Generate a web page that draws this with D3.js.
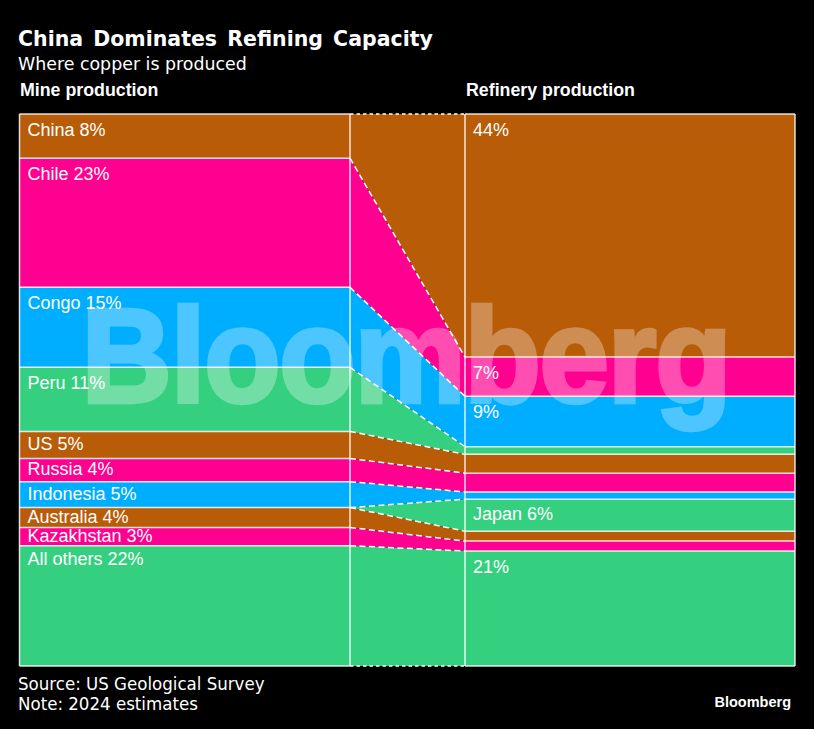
<!DOCTYPE html>
<html>
<head>
<meta charset="utf-8">
<script src="https://cdn.jsdelivr.net/npm/d3@7"></script>
<style>
  html, body { margin: 0; background: #000; }
  text { fill: #fff; }
  .lbl { font-family: "Liberation Sans", sans-serif; font-size: 18px; }
  .head { font-family: "Liberation Sans", sans-serif; font-size: 17.8px; font-weight: bold; }
  .title { font-family: "DejaVu Sans", sans-serif; font-size: 20.5px; font-weight: bold; word-spacing: 3px; }
  .sub { font-family: "DejaVu Sans", sans-serif; font-size: 17.4px; }
  .foot { font-family: "DejaVu Sans Condensed", "DejaVu Sans", sans-serif; font-stretch: condensed; font-size: 18.5px; }
</style>
</head>
<body>
<svg id="chart" width="814" height="729"></svg>
<script>
// share of world output (Japan has no mine band)
const countries = ["China", "Chile", "Congo", "Peru", "US", "Russia", "Indonesia", "Japan", "Australia", "Kazakhstan", "All others"];
const mine = [8.0, 23.4, 14.5, 11.6, 4.9, 4.2, 4.7, 0, 3.6, 3.3, 21.8];
const refinery = [44.0, 7.1, 9.1, 1.4, 3.4, 3.4, 1.3, 5.8, 1.8, 1.8, 20.8];
const mineLabels = ["China 8%", "Chile 23%", "Congo 15%", "Peru 11%", "US 5%", "Russia 4%", "Indonesia 5%", "", "Australia 4%", "Kazakhstan 3%", "All others 22%"];
const refineryLabels = ["44%", "7%", "9%", "", "", "", "", "Japan 6%", "", "", "21%"];
const palette = ["#b85c08", "#ff0090", "#00aeff", "#35d07f"];
const colorIdx = [0, 1, 2, 3, 0, 1, 2, 3, 0, 1, 3];

const svg = d3.select("#chart");
svg.append("rect").attr("width", 814).attr("height", 729).attr("fill", "#000");

const y = d3.scaleLinear().domain([0, 100]).range([114, 666]);
// four stops across: left edge, end of mine block, start of refinery block, right edge
const x = d3.scaleOrdinal().domain(["a", "b", "c", "d"]).range([19.5, 350, 465, 795]);

// cumulative tops and bottoms
function cumul(vals) {
  const total = d3.sum(vals);
  let acc = 0;
  return vals.map(v => {
    const r = [acc / total * 100, (acc + v) / total * 100];
    acc += v;
    return r;
  });
}
const mineC = cumul(mine);
const refC = cumul(refinery);
const rows = countries.map((c, i) => ({
  name: c,
  color: palette[colorIdx[i]],
  pts: [
    { k: "a", y0: mineC[i][0], y1: mineC[i][1] },
    { k: "b", y0: mineC[i][0], y1: mineC[i][1] },
    { k: "c", y0: refC[i][0], y1: refC[i][1] },
    { k: "d", y0: refC[i][0], y1: refC[i][1] }
  ]
}));

const area = d3.area().x(d => x(d.k)).y0(d => y(d.y0)).y1(d => y(d.y1));
svg.selectAll("path.band")
  .data(rows)
  .join("path")
  .attr("class", "band")
  .attr("fill", d => d.color)
  .attr("d", d => area(d.pts));

// solid rules inside the two blocks
const solid = (k0, k1, vals) => vals.forEach(v => {
  svg.append("line")
    .attr("x1", x(k0)).attr("x2", x(k1))
    .attr("y1", y(v)).attr("y2", y(v))
    .attr("stroke", "#fff").attr("stroke-opacity", 0.85).attr("stroke-width", 1.5);
});
solid("a", "b", [0, ...mineC.filter((d, i) => mine[i] > 0).map(d => d[1])]);
solid("c", "d", [0, ...refC.map(d => d[1])]);

// dashed links between the blocks
const link = d3.line().x(d => x(d.k)).y(d => y(d.v));
const links = [[0, 0]].concat(mineC.map((d, i) => [d[1], refC[i][1]]));
svg.selectAll("path.link")
  .data(links)
  .join("path")
  .attr("class", "link")
  .attr("fill", "none")
  .attr("stroke", "#fff")
  .attr("stroke-width", 1.5)
  .attr("stroke-dasharray", d => d[0] === d[1] ? "3.5,3" : "6,3.5")
  .attr("d", d => link([{ k: "b", v: d[0] }, { k: "c", v: d[1] }]));

// frame and verticals
["a", "b", "c", "d"].forEach(k => {
  svg.append("line")
    .attr("x1", x(k)).attr("x2", x(k))
    .attr("y1", y(0)).attr("y2", y(100))
    .attr("stroke", "#fff").attr("stroke-opacity", 0.85).attr("stroke-width", 1.5);
});

// band labels, nudged up in the thin bands
const labelY = (c, t) => {
  const h = y(c[1]) - y(c[0]);
  let ly = y(c[0]) + Math.min(21.5, h / 2 + 5);
  if (t.startsWith("All others")) ly -= 2; // sits higher in the reference
  return ly;
};
svg.selectAll("text.ml")
  .data(mineLabels.map((t, i) => ({ t, c: mineC[i] })).filter(d => d.t))
  .join("text")
  .attr("class", "lbl ml")
  .attr("x", 27.5)
  .attr("y", d => labelY(d.c, d.t))
  .text(d => d.t);
svg.selectAll("text.rl")
  .data(refineryLabels.map((t, i) => ({ t, c: refC[i] })).filter(d => d.t))
  .join("text")
  .attr("class", "lbl rl")
  .attr("x", 473)
  .attr("y", d => labelY(d.c, d.t))
  .text(d => d.t);

// headings
svg.append("text").attr("class", "title").attr("x", 18).attr("y", 46).text("China Dominates Refining Capacity");
svg.append("text").attr("class", "sub").attr("x", 18).attr("y", 70).text("Where copper is produced");
svg.append("text").attr("class", "head").attr("x", 20).attr("y", 96).text("Mine production");
svg.append("text").attr("class", "head").attr("x", 466).attr("y", 96).text("Refinery production");

// footer
svg.append("text").attr("class", "foot").attr("x", 18).attr("y", 690).text("Source: US Geological Survey");
svg.append("text").attr("class", "foot").attr("x", 18).attr("y", 710).text("Note: 2024 estimates");
svg.append("text").attr("x", 791).attr("y", 707).attr("text-anchor", "end")
  .attr("font-family", "Liberation Sans").attr("font-weight", "bold").attr("font-size", 14.5)
  .text("Bloomberg");

// watermark
svg.append("text").attr("transform", "translate(406,402) scale(1,1.07)").attr("text-anchor", "middle")
  .attr("font-family", "Liberation Sans").attr("font-weight", "bold").attr("font-size", 125)
  .attr("letter-spacing", -1.2)
  .style("fill", "#fff").style("stroke", "#fff").style("stroke-width", 4)
  .style("opacity", 0.3)
  .text("Bloomberg");
</script>
</body>
</html>
